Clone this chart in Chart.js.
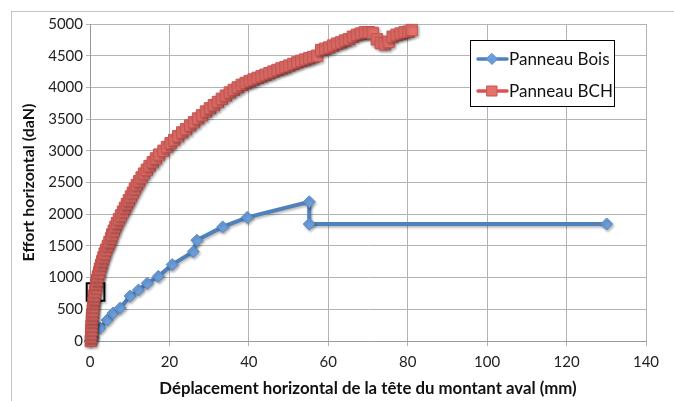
<!DOCTYPE html>
<html>
<head>
<meta charset="utf-8">
<script src="https://cdn.jsdelivr.net/npm/chart.js@4/dist/chart.umd.min.js"></script>
<style>
html,body{margin:0;padding:0;background:#fff;}
canvas{display:block;}
</style>
</head>
<body>
<canvas id="c" width="674" height="401"></canvas>
<script>
// ---- DATA ----
const seriesNames = ["Panneau Bois", "Panneau BCH"];
const xTitle = "Déplacement horizontal de la tête du montant aval (mm)";
const yTitle = "Effort horizontal (daN)";

const boisX = [0, 0.8, 2.5, 4.3, 5.8, 7.6, 10.1, 12.2, 14.4, 17.2, 20.7, 26.0, 26.9, 33.4, 39.6, 55.2, 55.2, 130.1];
const boisY = [0, 60, 205, 330, 440, 520, 710, 805, 910, 1020, 1205, 1410, 1590, 1800, 1950, 2195, 1845, 1845];

const bchX = [0.2, 0.3, 0.3, 0.4, 0.4, 0.5, 0.5, 0.6, 0.7, 0.8, 0.9, 1.0, 1.1, 1.3, 1.5, 1.6, 1.8, 2.0, 2.3, 2.5,
  2.8, 3.1, 3.4, 3.7, 4.1, 4.5, 4.9, 5.3, 5.6, 6.0, 6.4, 6.8, 7.3, 7.8, 8.3, 8.8, 9.3, 9.8, 10.3, 10.8,
  11.3, 11.8, 12.4, 13.0, 13.6, 14.3, 15.0, 15.8, 16.6, 17.4, 18.5, 19.4, 20.3, 21.2, 22.2, 23.2, 24.2, 25.2, 26.2, 27.2,
  28.2, 29.2, 30.2, 31.2, 32.2, 33.2, 34.2, 35.2, 36.2, 37.2, 38.2, 39.2, 40.2, 41.2, 42.2, 43.2, 44.2, 45.2, 46.2, 47.2,
  48.2, 49.2, 50.2, 51.2, 52.2, 53.2, 54.2, 55.2, 56.2, 57.2, 58.2, 59.2, 60.2, 61.2, 62.2, 63.2, 64.2, 65.2, 66.2, 67.2,
  68.2, 69.2, 70.2, 71.2, 72.2, 73.2, 74.2, 75.2, 76.2, 77.2, 78.2, 79.2, 80.2, 81.0];
const bchY = [0, 60, 120, 180, 240, 300, 360, 420, 480, 540, 600, 660, 720, 780, 840, 900, 960, 1020, 1080, 1140,
  1200, 1260, 1320, 1380, 1440, 1500, 1560, 1620, 1680, 1740, 1800, 1860, 1920, 1980, 2040, 2100, 2160, 2220, 2280, 2340,
  2400, 2460, 2520, 2580, 2640, 2700, 2760, 2820, 2880, 2940, 3000, 3060, 3120, 3170, 3230, 3290, 3340, 3400, 3450, 3510,
  3560, 3620, 3670, 3720, 3770, 3820, 3870, 3920, 3960, 4000, 4040, 4070, 4100, 4125, 4150, 4175, 4200, 4225, 4250, 4275,
  4300, 4320, 4345, 4370, 4395, 4420, 4440, 4460, 4480, 4500, 4590, 4610, 4630, 4660, 4690, 4710, 4740, 4760, 4800, 4830,
  4850, 4870, 4870, 4860, 4760, 4700, 4680, 4720, 4800, 4830, 4850, 4870, 4880, 4905];

// highlighted (black outlined) point on the BCH curve
const markedX = [1.4];
const markedY = [773];

const xTicks = [0, 20, 40, 60, 80, 100, 120, 140];
const yTicks = [0, 500, 1000, 1500, 2000, 2500, 3000, 3500, 4000, 4500, 5000];

// ---- CHART ----
const toPts = (xs, ys) => xs.map((x, i) => ({x: x, y: ys[i]}));
const BLUE_LINE = '#4F81BD', BLUE_FILL = '#6A9DDA';
const RED_LINE = '#D9534F', RED_FILL = '#E5716B', RED_BORDER = '#C9534F';

const framePlugin = {
  id: 'frame',
  beforeDraw(chart) {
    const c = chart.ctx;
    c.save();
    c.fillStyle = '#fff';
    c.fillRect(0, 0, chart.width, chart.height);
    c.strokeStyle = '#c4c4c4';
    c.lineWidth = 1;
    c.strokeRect(11.5, 11.5, 800, 600);
    c.restore();
  },
  beforeDatasetsDraw(chart) {
    const c = chart.ctx;
    c.save();
    c.shadowColor = 'rgba(0,0,0,0.28)';
    c.shadowBlur = 2.5;
    c.shadowOffsetX = 1.2;
    c.shadowOffsetY = 1.8;
  },
  afterDatasetsDraw(chart) {
    chart.ctx.restore();
  },
  afterDraw(chart) {
    const c = chart.ctx;
    c.save();
    const bx = 470.5, by = 40.5, bw = 144, bh = 66;
    c.fillStyle = '#fff';
    c.fillRect(bx, by, bw, bh);
    c.strokeStyle = '#000';
    c.lineWidth = 1;
    c.strokeRect(bx, by, bw, bh);
    const rows = [59, 91];
    for (let i = 0; i < 2; i++) {
      const ds = chart.data.datasets[i];
      const y = rows[i];
      c.strokeStyle = ds.borderColor;
      c.lineWidth = 3.5;
      c.lineCap = 'round';
      c.beginPath(); c.moveTo(478, y); c.lineTo(507, y); c.stroke();
      c.fillStyle = ds.pointBackgroundColor;
      c.strokeStyle = ds.pointBorderColor;
      c.lineWidth = 1;
      c.beginPath();
      if (i === 0) {
        c.moveTo(492, y - 5.5); c.lineTo(497.5, y); c.lineTo(492, y + 5.5); c.lineTo(486.5, y); c.closePath();
      } else {
        c.rect(487, y - 5, 10, 10);
      }
      c.fill(); c.stroke();
      c.fillStyle = '#111';
      c.font = '17px Lato';
      c.textBaseline = 'middle';
      c.textAlign = 'left';
      c.fillText(ds.label, 509, y + 1);
    }
    c.restore();
  }
};

new Chart(document.getElementById('c'), {
  type: 'line',
  data: {
    datasets: [
      {
        label: seriesNames[0],
        data: toPts(boisX, boisY),
        borderColor: BLUE_LINE,
        borderWidth: 4,
        pointStyle: 'rectRot',
        pointRadius: 6,
        pointBackgroundColor: BLUE_FILL,
        pointBorderColor: '#5B8CC8',
        pointBorderWidth: 1,
        tension: 0,
        clip: false,
        order: 2
      },
      {
        label: seriesNames[1],
        data: toPts(bchX, bchY),
        borderColor: RED_LINE,
        borderWidth: 3,
        pointStyle: 'rect',
        pointRadius: 8,
        pointBackgroundColor: RED_FILL,
        pointBorderColor: RED_BORDER,
        pointBorderWidth: 1,
        tension: 0,
        clip: false,
        order: 1
      },
      {
        label: 'marked',
        data: toPts(markedX, markedY),
        showLine: false,
        pointStyle: 'rect',
        pointRadius: 12.5,
        pointBackgroundColor: 'rgba(0,0,0,0)',
        pointBorderColor: '#000',
        pointBorderWidth: 2,
        clip: false,
        order: 3
      }
    ]
  },
  options: {
    responsive: false,
    animation: false,
    devicePixelRatio: 1,
    layout: {padding: {left: 0, top: 24, right: 28, bottom: 0}},
    plugins: {legend: {display: false}, tooltip: {enabled: false}},
    scales: {
      x: {
        type: 'linear',
        min: xTicks[0], max: xTicks[xTicks.length - 1],
        afterBuildTicks: s => { s.ticks = xTicks.map(v => ({value: v})); },
        afterFit: s => { s.height = 60; },
        grid: {color: '#b3b3b3', lineWidth: 1, tickLength: 5, drawTicks: true},
        border: {color: '#9a9a9a', width: 1},
        ticks: {color: '#222', font: {family: 'Lato', size: 15}, padding: 7, maxRotation: 0, callback: v => String(v)},
        title: {display: true, text: xTitle, color: '#111', font: {family: 'Lato', size: 16.8, weight: 'bold'}, padding: {top: 0, bottom: 2}}
      },
      y: {
        type: 'linear',
        min: yTicks[0], max: yTicks[yTicks.length - 1],
        afterBuildTicks: s => { s.ticks = yTicks.map(v => ({value: v})); },
        afterFit: s => { s.width = 90; },
        grid: {color: '#b3b3b3', lineWidth: 1, tickLength: 4, drawTicks: true},
        border: {color: '#9a9a9a', width: 1},
        ticks: {color: '#222', font: {family: 'Lato', size: 15}, padding: 3, callback: v => String(v)},
        title: {display: true, text: yTitle, color: '#111', font: {family: 'Lato', size: 16, weight: 'bold'}, padding: {top: 19, bottom: 0}}
      }
    }
  },
  plugins: [framePlugin]
});
</script>
</body>
</html>
